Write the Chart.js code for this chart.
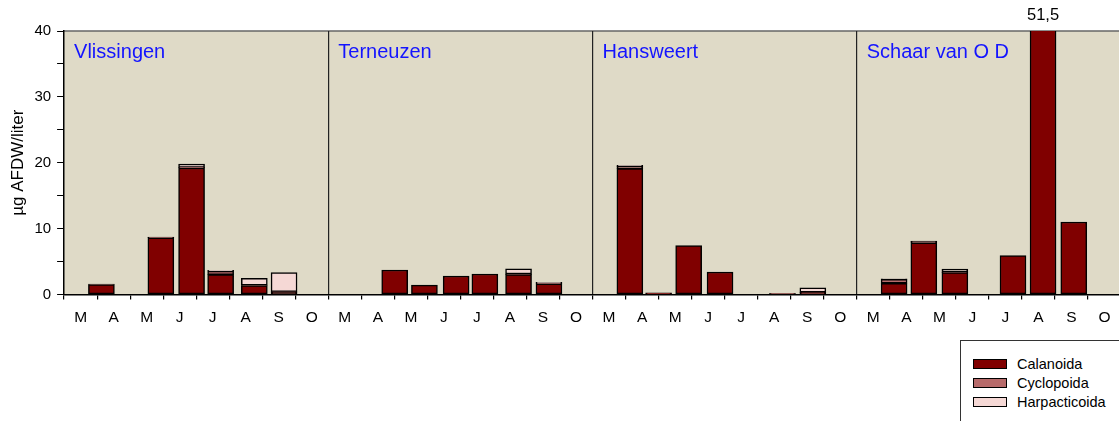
<!DOCTYPE html>
<html>
<head>
<meta charset="utf-8">
<script src="https://cdn.jsdelivr.net/npm/chart.js@4.4.1/dist/chart.umd.min.js"></script>
<style>
  html, body { margin: 0; padding: 0; background: #fff; overflow: hidden; }
  #wrap { position: relative; width: 1119px; height: 421px; overflow: hidden; }
  #c { position: absolute; left: 0; top: 0; }
  #legend { position: absolute; left: 960px; top: 340px; width: 180px; height: 100px;
    border: 1px solid #333; background: #fff; box-sizing: border-box; padding-top: 13px;
    font-family: "Liberation Sans", Arial, sans-serif; font-size: 14.5px; color: #000; }
  .item { display: flex; align-items: center; height: 19px; padding-left: 12px; }
  .sw { width: 34px; height: 10px; border: 1px solid #000; box-sizing: border-box; margin-right: 10px; }
</style>
</head>
<body>
<div id="wrap">
  <canvas id="c" width="1122" height="421"></canvas>
  <div id="legend"></div>
</div>
<script>
// ---- data ----
const monthLabels = ['M', 'A', 'M', 'J', 'J', 'A', 'S', 'O'];
const stations = ['Vlissingen', 'Terneuzen', 'Hansweert', 'Schaar van O D'];
// sampling positions, in months from the start of March, per station
const samplePos = [
  [1.13, 2.93, 3.86, 4.74, 5.76, 6.66],
  [2.01, 2.91, 3.87, 4.74, 5.76, 6.68],
  [1.13, 2.00, 2.91, 3.86, 5.75, 6.67],
  [1.13, 2.03, 2.97, 4.73, 5.64, 6.57]
];
// µg AFDW/liter per station and sample
const calanoida = [
  [1.5, 8.6, 19.2, 3.0, 1.35, 0.35],
  [3.7, 1.4, 2.8, 3.1, 3.0, 1.6],
  [19.1, 0.25, 7.4, 3.4, 0.12, 0.3],
  [1.7, 7.85, 3.3, 5.9, 51.5, 11.0]
];
const cyclopoida = [
  [0.05, 0.05, 0.1, 0.55, 0.05, 0.05],
  [0, 0, 0, 0, 0.1, 0.15],
  [0.35, 0, 0, 0, 0, 0.05],
  [0.6, 0.2, 0.1, 0, 0, 0]
];
const harpacticoida = [
  [0, 0.05, 0.5, 0.1, 1.05, 2.9],
  [0, 0, 0, 0, 0.8, 0.1],
  [0.15, 0, 0, 0, 0.02, 0.65],
  [0.05, 0.05, 0.45, 0, 0, 0]
];
const yTicksMax = 40;
const seriesNames = ['Calanoida', 'Cyclopoida', 'Harpacticoida'];
const seriesColors = ['#800000', '#b76b6b', '#f5d8d5'];

// ---- build points ----
const monthsPerStation = monthLabels.length;
function toPoints(values) {
  const pts = [];
  stations.forEach((s, si) => {
    samplePos[si].forEach((p, k) => {
      pts.push({ x: si * monthsPerStation + p, y: values[si][k] });
    });
  });
  return pts;
}
const seriesValues = [calanoida, cyclopoida, harpacticoida];
const FONT = '"Liberation Sans", Arial, Helvetica, sans-serif';

const datasets = seriesNames.map((n, i) => ({
  label: n,
  data: toPoints(seriesValues[i]),
  backgroundColor: seriesColors[i],
  borderColor: '#000',
  borderWidth: 1.5,
  borderSkipped: false,
  barThickness: 26,
  clip: 0
}));

const bgPlugin = {
  id: 'bg',
  beforeDraw(chart) {
    const a = chart.chartArea, ctx = chart.ctx;
    ctx.save();
    ctx.fillStyle = '#dfdac7';
    ctx.fillRect(a.left, a.top, a.right - a.left, a.bottom - a.top);
    ctx.strokeStyle = '#666';
    ctx.lineWidth = 1.5;
    ctx.beginPath();
    ctx.moveTo(a.left, a.top);
    ctx.lineTo(a.right, a.top);
    ctx.stroke();
    ctx.restore();
  }
};

const labelPlugin = {
  id: 'labels',
  afterDatasetsDraw(chart) {
    const ctx = chart.ctx, xs = chart.scales.x, ys = chart.scales.y, a = chart.chartArea;
    ctx.save();
    ctx.font = '20px ' + FONT;
    ctx.fillStyle = '#1414ff';
    ctx.textAlign = 'left';
    ctx.textBaseline = 'alphabetic';
    stations.forEach((s, si) => {
      ctx.fillText(s, xs.getPixelForValue(si * monthsPerStation) + 10, a.top + 27);
    });
    // totals above the axis maximum
    const metas = chart.data.datasets.map((d, i) => chart.getDatasetMeta(i));
    const n = chart.data.datasets[0].data.length;
    ctx.font = '16.5px ' + FONT;
    ctx.fillStyle = '#000';
    ctx.textAlign = 'center';
    ctx.textBaseline = 'bottom';
    for (let k = 0; k < n; k++) {
      let tot = 0;
      chart.data.datasets.forEach(d => { tot += d.data[k].y || 0; });
      if (tot > ys.max) {
        const txt = (Math.round(tot * 10) / 10).toLocaleString('nl-NL');
        ctx.fillText(txt, metas[0].data[k].x, a.top - 7);
      }
    }
    ctx.restore();
  }
};

const chart = new Chart(document.getElementById('c'), {
  type: 'bar',
  data: { datasets },
  options: {
    responsive: false,
    animation: false,
    layout: { padding: { left: 2, top: 31, right: 1, bottom: 85 } },
    plugins: { legend: { display: false }, tooltip: { enabled: false } },
    scales: {
      x: {
        type: 'linear',
        stacked: true,
        offset: false,
        min: 0,
        max: stations.length * monthsPerStation,
        afterBuildTicks(scale) {
          const t = [];
          for (let v = 0; v <= stations.length * monthsPerStation; v += 0.5) t.push({ value: v });
          scale.ticks = t;
        },
        afterFit(scale) { scale.paddingLeft = 0; scale.paddingRight = 0; },
        ticks: {
          autoSkip: false,
          maxRotation: 0,
          padding: 9,
          color: '#000',
          font: { family: FONT, size: 15.5 },
          callback(v) {
            return (v % 1 === 0.5) ? monthLabels[Math.floor(v) % monthsPerStation] : '';
          }
        },
        grid: {
          offset: false,
          drawOnChartArea: true,
          tickLength: 5,
          color(ctx) {
            const v = ctx.tick ? ctx.tick.value : -1;
            return (v > 0 && v < stations.length * monthsPerStation && v % monthsPerStation === 0) ? '#222' : 'rgba(0,0,0,0)';
          },
          tickColor(ctx) {
            const v = ctx.tick ? ctx.tick.value : 0.5;
            return (v % 1 === 0) ? '#000' : 'rgba(0,0,0,0)';
          },
          lineWidth: 1.2
        },
        border: { display: true, color: '#000', width: 1.5 }
      },
      y: {
        stacked: true,
        min: 0,
        max: yTicksMax,
        ticks: {
          stepSize: 5,
          padding: 6,
          color: '#000',
          font: { family: FONT, size: 15 },
          callback(v) { return v % 10 === 0 ? String(v) : ''; }
        },
        grid: { drawOnChartArea: false, tickLength: 7, tickColor: '#000' },
        border: { display: true, color: '#000', width: 1.5 },
        title: {
          display: true,
          text: 'µg AFDW/liter',
          color: '#000',
          font: { family: FONT, size: 17 },
          padding: { top: 6, bottom: 0 }
        }
      }
    }
  },
  plugins: [bgPlugin, labelPlugin]
});

// legend built from the chart's datasets
const lg = document.getElementById('legend');
chart.data.datasets.forEach(d => {
  const row = document.createElement('div');
  row.className = 'item';
  const sw = document.createElement('span');
  sw.className = 'sw';
  sw.style.background = d.backgroundColor;
  const tx = document.createElement('span');
  tx.textContent = d.label;
  row.appendChild(sw); row.appendChild(tx);
  lg.appendChild(row);
});
</script>
</body>
</html>
